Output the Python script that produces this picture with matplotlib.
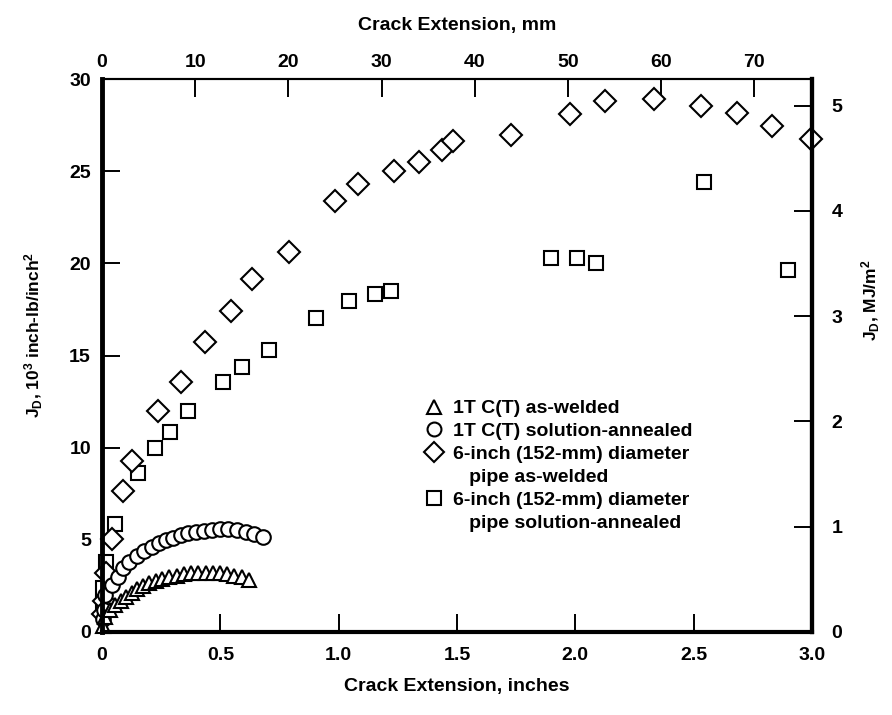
import matplotlib
matplotlib.use("Agg")
import matplotlib.pyplot as plt
from matplotlib.lines import Line2D

plt.rcParams['font.family'] = ['Liberation Sans', 'DejaVu Sans']
plt.rcParams['font.weight'] = 'bold'
plt.rcParams['mathtext.fontset'] = 'custom'
plt.rcParams['mathtext.rm'] = 'Liberation Sans:bold'
plt.rcParams['mathtext.it'] = 'Liberation Sans:bold'
plt.rcParams['mathtext.default'] = 'rm'

# 1T C(T) as-welded
tri_x = [0.005, 0.013, 0.034, 0.055, 0.079, 0.101, 0.125, 0.149, 0.174, 0.200, 0.227, 0.255,
         0.284, 0.316, 0.346, 0.376, 0.407, 0.438, 0.468, 0.499, 0.530, 0.559, 0.590, 0.622]
tri_y = [0.30, 0.83, 1.19, 1.47, 1.70, 1.92, 2.13, 2.32, 2.50, 2.64, 2.77, 2.88,
         2.97, 3.06, 3.13, 3.18, 3.22, 3.22, 3.22, 3.18, 3.13, 3.06, 2.97, 2.82]

# 1T C(T) solution-annealed
circ_x = [0.004, 0.008, 0.013, 0.041, 0.069, 0.090, 0.115, 0.147, 0.179, 0.210, 0.241, 0.270,
          0.301, 0.332, 0.365, 0.397, 0.431, 0.463, 0.499, 0.534, 0.569, 0.607, 0.644, 0.681]
circ_y = [0.70, 1.20, 2.00, 2.55, 3.00, 3.45, 3.81, 4.14, 4.41, 4.63, 4.81, 4.99,
          5.12, 5.25, 5.35, 5.43, 5.50, 5.53, 5.57, 5.57, 5.53, 5.44, 5.32, 5.14]

# 6-inch pipe as-welded
dia_x = [0.005, 0.010, 0.017, 0.041, 0.090, 0.125, 0.238, 0.335, 0.436, 0.544, 0.635, 0.789,
         0.986, 1.080, 1.234, 1.338, 1.435, 1.482, 1.728, 1.977, 2.125, 2.332, 2.529, 2.681,
         2.831, 2.996]
dia_y = [1.00, 1.70, 3.22, 5.03, 7.65, 9.28, 12.01, 13.55, 15.74, 17.42, 19.17, 20.62,
         23.40, 24.28, 25.03, 25.48, 26.15, 26.63, 26.95, 28.11, 28.83, 28.89, 28.54, 28.14,
         27.47, 26.75]

# 6-inch pipe solution-annealed
sq_x = [0.003, 0.005, 0.017, 0.055, 0.153, 0.224, 0.287, 0.365, 0.510, 0.593, 0.707, 0.904,
        1.045, 1.153, 1.220, 1.897, 2.005, 2.087, 2.543, 2.900]
sq_y = [1.50, 2.37, 3.81, 5.86, 8.64, 9.98, 10.87, 11.97, 13.55, 14.36, 15.28, 17.05,
        17.98, 18.36, 18.52, 20.28, 20.28, 20.00, 24.43, 19.64]

labels = ["1T C(T) as-welded", "1T C(T) solution-annealed",
          "6-inch (152-mm) diameter", "   pipe as-welded",
          "6-inch (152-mm) diameter", "   pipe solution-annealed"]

fs = 14
fig = plt.figure(figsize=(8.92, 7.15), dpi=100)
ax = fig.add_axes([102 / 892, 1 - 632 / 715, 710 / 892, 553 / 715])

mk = dict(linestyle='none', markerfacecolor='white', markeredgecolor='black',
          markeredgewidth=1.5, clip_on=False)
ax.plot(sq_x, sq_y, marker='s', markersize=10, **mk)
ax.plot(dia_x, dia_y, marker='D', markersize=11, **mk)
ax.plot(circ_x, circ_y, marker='o', markersize=10.5, **mk)
ax.plot(tri_x, tri_y, marker='^', markersize=10.5, **mk)

ax.set_xlim(0, 3.0)
ax.set_ylim(0, 30)
ax.set_xticks([0, 0.5, 1.0, 1.5, 2.0, 2.5, 3.0])
ax.set_xticklabels(['0', '0.5', '1.0', '1.5', '2.0', '2.5', '3.0'])
ax.set_yticks([0, 5, 10, 15, 20, 25, 30])
ax.tick_params(direction='in', length=13, width=1.4, labelsize=fs)
ax.tick_params(axis='x', pad=11)
ax.tick_params(axis='y', pad=8)
ax.set_xlabel("Crack Extension, inches", fontsize=fs, fontweight='bold', labelpad=10)
ax.set_ylabel(r"J$_{\rm D}$, 10$^{3}$ inch-lb/inch$^{2}$", fontsize=12.5, fontweight='bold')
ax.yaxis.set_label_coords(-0.08, 0.537)

ax.spines['left'].set_linewidth(3.5)
ax.spines['bottom'].set_linewidth(3.0)
ax.spines['right'].set_linewidth(3.0)
ax.spines['top'].set_linewidth(1.5)

top = ax.secondary_xaxis('top', functions=(lambda x: x * 25.4, lambda x: x / 25.4))
top.set_xticks([0, 10, 20, 30, 40, 50, 60, 70])
top.tick_params(direction='in', length=13, width=1.4, labelsize=fs, pad=6)
top.set_xlabel("Crack Extension, mm", fontsize=fs, fontweight='bold', labelpad=17)
top.spines['top'].set_linewidth(1.5)

right = ax.secondary_yaxis('right', functions=(lambda y: y * 0.17513, lambda y: y / 0.17513))
right.set_yticks([0, 1, 2, 3, 4, 5])
right.tick_params(direction='in', length=13, width=1.4, labelsize=fs, pad=14)
right.set_ylabel(r"J$_{\rm D}$, MJ/m$^{2}$", fontsize=12.5, fontweight='bold')
right.yaxis.set_label_coords(1.067, 0.60, transform=ax.transAxes)
right.spines['right'].set_linewidth(3.0)

handles = [Line2D([], [], marker='^', markersize=10, **mk),
           Line2D([], [], marker='o', markersize=10, **mk),
           Line2D([], [], marker='D', markersize=10, **mk),
           Line2D([], [], linestyle='none'),
           Line2D([], [], marker='s', markersize=10, **mk),
           Line2D([], [], linestyle='none')]
ax.legend(handles, labels, loc='upper left', bbox_to_anchor=(0.4535, 0.42),
          frameon=False, fontsize=fs, handlelength=1.0, handletextpad=0.5,
          labelspacing=0.27, borderpad=0, borderaxespad=0)

fig.savefig("out.png", dpi=100)
